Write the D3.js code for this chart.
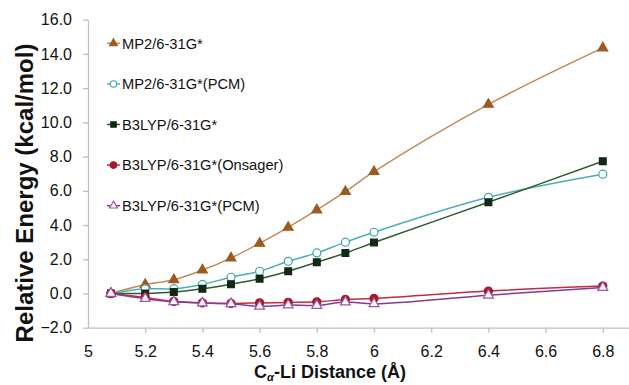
<!DOCTYPE html>
<html>
<head>
<meta charset="utf-8">
<script src="https://cdn.jsdelivr.net/npm/d3@7"></script>
<style>
  body { margin: 0; background: #fff; }
  svg { display: block; font-family: Arial, "Liberation Sans", sans-serif; }
</style>
</head>
<body>
<script>
// distances (Å)
const distances = [5.08, 5.2, 5.3, 5.4, 5.5, 5.6, 5.7, 5.8, 5.9, 6.0, 6.4, 6.8];

// relative energies (kcal/mol)
const mp2 =        [0, 0.52, 0.80, 1.37, 2.07, 2.93, 3.86, 4.88, 5.95, 7.12, 11.05, 14.35];
const mp2Pcm =     [0, 0.27, 0.28, 0.53, 0.95, 1.30, 1.88, 2.37, 3.00, 3.58, 5.62, 6.97];
const b3lyp =      [0, 0.00, 0.08, 0.27, 0.54, 0.86, 1.30, 1.83, 2.36, 2.98, 5.33, 7.73];
const b3Onsager =  [0, -0.23, -0.46, -0.55, -0.58, -0.55, -0.52, -0.49, -0.35, -0.29, 0.14, 0.43];
const b3Pcm =      [0, -0.30, -0.49, -0.56, -0.60, -0.75, -0.68, -0.70, -0.50, -0.60, -0.10, 0.35];

const seriesNames = ["MP2/6-31G*", "MP2/6-31G*(PCM)", "B3LYP/6-31G*", "B3LYP/6-31G*(Onsager)", "B3LYP/6-31G*(PCM)"];
const seriesValues = [mp2, mp2Pcm, b3lyp, b3Onsager, b3Pcm];

// the axis runs to 7 but the picture is cut before that tick
const xTicks = [5, 5.2, 5.4, 5.6, 5.8, 6, 6.2, 6.4, 6.6, 6.8];
const yTicks = [-2, 0, 2, 4, 6, 8, 10, 12, 14, 16];

const styles = [
  {line: "#c08a57", stroke: "#9c5a20", fill: "#9c5a20", shape: d3.symbolTriangle, size: 42},
  {line: "#4aaeb8", stroke: "#3fa4ae", fill: "#fff", shape: d3.symbolCircle, size: 50},
  {line: "#2d5a30", stroke: "#122a14", fill: "#122a14", shape: d3.symbolSquare, size: 46},
  {line: "#c42a44", stroke: "#a8172c", fill: "#a8172c", shape: d3.symbolCircle, size: 52},
  {line: "#803c95", stroke: "#a052a8", fill: "#fff", shape: d3.symbolTriangle, size: 42}
];

const width = 629, height = 385;

const svg = d3.select("body").append("svg")
  .attr("width", width)
  .attr("height", height);

const x = d3.scaleLinear().domain([5, 7]).range([88, 660]);
const y = d3.scaleLinear().domain([-2, 16]).range([327.7, 19.7]);

// axes
const yAxis = svg.append("g")
  .attr("transform", "translate(88,0)")
  .call(d3.axisLeft(y).tickValues(yTicks).tickFormat(d3.format(".1f")).tickSize(5).tickSizeOuter(0).tickPadding(11));

const xAxis = svg.append("g")
  .attr("transform", "translate(0," + y(-2) + ")")
  .call(d3.axisBottom(x).tickValues(xTicks).tickFormat(d => d3.format("~g")(d)).tickSize(5).tickSizeOuter(0).tickPadding(13));

[xAxis, yAxis].forEach(g => {
  g.select(".domain").attr("stroke", "#bfbfbf").attr("stroke-width", 1.3);
  g.selectAll(".tick line").attr("stroke", "#bfbfbf").attr("stroke-width", 1.3);
  g.selectAll(".tick text").attr("fill", "#111").style("font-size", "16px").style("font-family", "Arial, 'Liberation Sans', sans-serif");
});
xAxis.selectAll(".tick").filter(d => d === 5).select("line").remove();

// axis titles
svg.append("text")
  .attr("transform", "translate(33,193) rotate(-90)")
  .attr("text-anchor", "middle")
  .style("font-size", "24px")
  .style("font-weight", "bold")
  .attr("fill", "#111")
  .text("Relative Energy (kcal/mol)");

const xt = svg.append("text")
  .attr("x", 330)
  .attr("y", 378)
  .attr("text-anchor", "middle")
  .style("font-size", "18px")
  .style("font-weight", "bold")
  .attr("fill", "#111");
xt.append("tspan").text("C");
xt.append("tspan").attr("dy", 3).style("font-size", "11px").style("font-style", "italic").text("α");
xt.append("tspan").attr("dy", -3).text("-Li Distance (Å)");

// series
const line = d3.line()
  .x((d, i) => x(distances[i]))
  .y(d => y(d))
  .curve(d3.curveCatmullRom.alpha(0.5));

seriesValues.forEach((vals, k) => {
  const st = styles[k];
  const g = svg.append("g");
  g.append("path")
    .datum(vals)
    .attr("d", line)
    .attr("fill", "none")
    .attr("stroke", st.line)
    .attr("stroke-width", 1.5);
  g.selectAll("path.mark")
    .data(vals)
    .enter()
    .append("path")
    .attr("class", "mark")
    .attr("transform", (d, i) => "translate(" + x(distances[i]) + "," + y(d) + ")")
    .attr("d", d3.symbol(st.shape, st.size))
    .attr("fill", st.fill)
    .attr("stroke", st.stroke)
    .attr("stroke-width", 1.2);
});

// legend
const legend = svg.append("g");
seriesNames.forEach((name, k) => {
  const st = styles[k];
  const ly = 43.3 + k * 40.6;
  legend.append("line")
    .attr("x1", 107).attr("x2", 120)
    .attr("y1", ly).attr("y2", ly)
    .attr("stroke", st.line)
    .attr("stroke-width", 1.5);
  legend.append("path")
    .attr("transform", "translate(113.5," + ly + ")")
    .attr("d", d3.symbol(st.shape, st.size * 0.65))
    .attr("fill", st.fill)
    .attr("stroke", st.stroke)
    .attr("stroke-width", 1.1);
  legend.append("text")
    .attr("x", 122)
    .attr("y", ly)
    .attr("dy", "0.36em")
    .style("font-size", "14.7px")
    .attr("fill", "#111")
    .text(name);
});
</script>
</body>
</html>
